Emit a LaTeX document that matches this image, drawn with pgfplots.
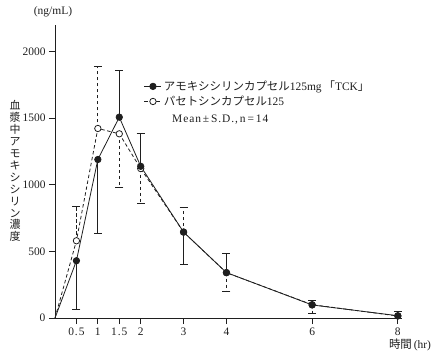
\documentclass[border=0pt]{standalone}
\usepackage{fontspec}
\setmainfont{Liberation Serif}
\newfontfamily\jp{Noto Sans CJK JP}
\usepackage{pgfplots}
\pgfplotsset{compat=1.18}
\usetikzlibrary{calc}
\definecolor{ink}{gray}{0.12}
\begin{document}
\begin{tikzpicture}
\begin{axis}[name=ax, scale only axis, width=345bp, height=293bp,
  xmin=0, xmax=8.05, ymin=0, ymax=2200, clip=false,
  axis x line=bottom, axis y line=left, axis line style={-, ink, line width=0.8bp},
  xtick={0.5,1,1.5,2,3,4,6,8}, xticklabels={0.5,1,1.5,2,3,4,6,8},
  ytick={0,500,1000,1500,2000},
  /pgf/number format/1000 sep={},
  tick align=outside, major tick length=6bp, tick style={ink, line width=0.8bp},
  /pgf/number format/assume math mode=true,
  tick label style={font=\fontsize{11.5}{14}\selectfont, text=ink},
  xticklabel style={font=\fontsize{11.5}{14}\selectfont\addfontfeature{LetterSpace=8}},
  legend style={draw=none, fill=none, at={(axis cs:2.05,1805)}, anchor=north west,
    font=\fontsize{11.5}{13}\selectfont, text=ink, row sep=0bp, inner sep=1bp},
  legend cell align=left,
  error bars/error bar style={ink, line width=0.8bp},
  error bars/error mark options={rotate=90, draw=ink, solid, mark size=4bp, line width=0.8bp},
]
% error bars (solid series A)
\addplot[only marks, mark=none, forget plot, error bars/.cd, y dir=minus, y explicit,
  error bar style={solid}]
  coordinates {(0.5,430) +- (0,362) (1,1190) +- (0,555) (3,645) +- (0,246)};
\addplot[only marks, mark=none, forget plot, error bars/.cd, y dir=plus, y explicit,
  error bar style={solid}]
  coordinates {(1.5,1508) +- (0,352) (2,1139) +- (0,247) (4,341) +- (0,146) (6,98) +- (0,37) (8,17) +- (0,30)};
% error bars (dashed series B)
\addplot[only marks, mark=none, forget plot, error bars/.cd, y dir=plus, y explicit,
  error bar style={dash pattern=on 3.5bp off 2.5bp}]
  coordinates {(0.5,580) +- (0,258) (1,1423) +- (0,465) (3,645) +- (0,189)};
\addplot[only marks, mark=none, forget plot, error bars/.cd, y dir=minus, y explicit,
  error bar style={dash pattern=on 3.5bp off 2.5bp}]
  coordinates {(1.5,1383) +- (0,399) (2,1122) +- (0,259) (4,340) +- (0,137) (6,100) +- (0,63) (8,15) +- (0,15)};
% series B (dashed, open)
\addplot[forget plot, ink, line width=0.8bp, dash pattern=on 3.5bp off 2.5bp, mark=*, mark size=3.2bp,
  mark options={solid, fill=white, draw=ink, line width=0.8bp}, mark indices={2,3,4,5,6,7,8,9}]
  coordinates {(0,0) (0.5,580) (1,1423) (1.5,1383) (2,1122) (3,645) (4,340) (6,100) (8,15)};
% series A (solid, filled)
\addplot[forget plot, ink, line width=0.8bp, mark=*, mark size=3.2bp,
  mark options={solid, fill=ink}, mark indices={2,3,4,5,6,7,8,9}]
  coordinates {(0,0) (0.5,430) (1,1190) (1.5,1508) (2,1139) (3,645) (4,341) (6,98) (8,17)};
\addlegendimage{ink, line width=0.8bp, mark=*, mark size=3.2bp, mark options={solid, fill=ink}}
\addlegendentry{{\jp アモキシシリンカプセル}125mg\,{\jp 「}TCK{\jp 」}}
\addlegendimage{ink, line width=0.8bp, dash pattern=on 3.5bp off 2.5bp, mark=*, mark size=3.2bp, mark options={solid, fill=white, draw=ink}}
\addlegendentry{{\jp パセトシンカプセル}125}
\end{axis}
\node[anchor=west, font=\fontsize{11.5}{13}\selectfont\addfontfeature{LetterSpace=8}, text=ink, inner sep=0] at ($(ax.south west)+(117bp,198bp)$) {Mean\,±\,S.D.,\,n\,=\,14};
\node[font=\fontsize{11.5}{13}\selectfont, text=ink] at ($(ax.south west)+(-2bp,306bp)$) {(ng/mL)};
\node[font=\fontsize{11.5}{13}\selectfont, text=ink] at ($(ax.south west)+(355bp,-27bp)$) {{\jp 時間}\,(hr)};
\node[anchor=north, font=\jp\fontsize{11}{12}\selectfont, text=ink, align=center, inner sep=0] at ($(ax.south west)+(-40bp,218bp)$)
  {血\\漿\\中\\ア\\モ\\キ\\シ\\シ\\リ\\ン\\濃\\度};
\pgfresetboundingbox
\path[use as bounding box] ($(ax.south west)+(-55bp,-38bp)$) rectangle ++(448bp,356bp);
\end{tikzpicture}
\end{document}
